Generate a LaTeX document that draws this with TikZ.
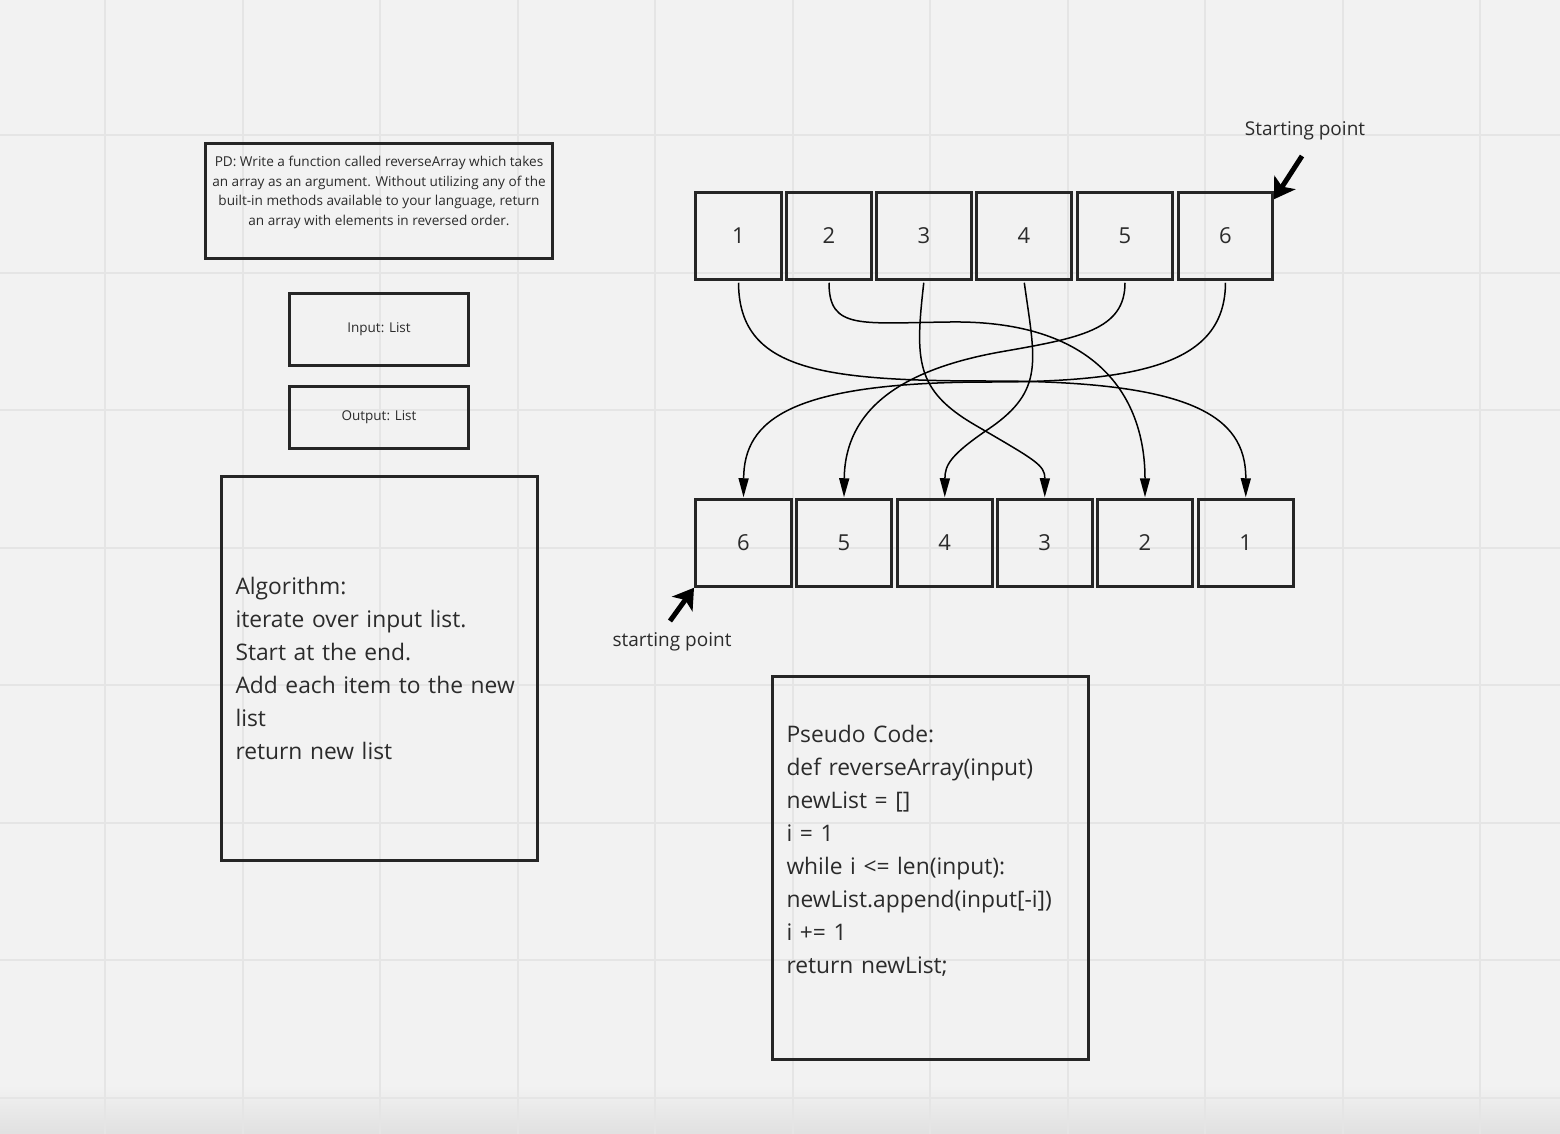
\documentclass[tikz,border=0pt]{standalone}
\usepackage{fontspec}
\setmainfont{Open Sans}
\usetikzlibrary{arrows.meta,positioning}

\definecolor{board}{HTML}{F2F2F2}
\definecolor{gridline}{HTML}{E5E5E5}
\definecolor{ink}{HTML}{262626}
\definecolor{txt}{HTML}{2B2B2B}

\tikzset{
  box/.style={draw=ink, line width=3pt, inner sep=0pt, text=txt},
  cell/.style={box, minimum height=86.5pt, font=\fontsize{22}{26}\selectfont},
  swap/.style={line width=1.5pt, -{Triangle[length=19pt,width=10pt]}, shorten <=2pt, shorten >=1pt},
  pointer/.style={line width=5pt, -{Stealth[length=20pt,width=25pt,inset=5pt]}},
  note/.style={font=\fontsize{19}{23}\selectfont, text=txt},
}

\begin{document}
\begin{tikzpicture}[x=1pt, y=-1pt]
	\useasboundingbox (0,0) rectangle (1560,1134);
	\fill[board] (0,0) rectangle (1560,1134);
	\shade[top color=board, bottom color=black!12] (0,1085) rectangle (1560,1134);
	% board grid
	\foreach \gx in {0,...,10}
		\draw[gridline, line width=2pt] ({105+137.5*\gx},0) -- ++(0,1134);
	\foreach \gy in {0,...,7}
		\draw[gridline, line width=2pt] (0,{135+137.5*\gy}) -- ++(1560,0);

	% problem domain
	\node[box, minimum width=347pt, minimum height=115pt] (pd) at (379,201) {};
	\node[font=\fontsize{13.6}{19.5}\selectfont, text=txt, align=center, anchor=north, inner sep=0pt] (pdtext) at (379,156) {PD: Write a function called reverseArray which takes\\ an array as an argument. Without utilizing any of the\\ built-in methods available to your language, return\\ an array with elements in reversed order.};
	\node[box, minimum width=178.5pt, minimum height=71.5pt, font=\fontsize{13.5}{16}\selectfont] (inbox) at (379,329.5) {\raisebox{-2pt}{Input: List}};
	\node[box, minimum width=178.5pt, minimum height=62pt, font=\fontsize{13.5}{16}\selectfont] (outbox) at (379,417.5) {Output: List};

	% algorithm and pseudo code
	\node[box, minimum width=316pt, minimum height=383.5pt, inner xsep=14pt, text width=288pt, align=left, font=\fontsize{22.8}{33}\selectfont] (algo) at (379.5,668.3) {Algorithm:\\ iterate over input list.\\ Start at the end.\\ Add each item to the new\\ list\\ return new list};
	\node[box, minimum width=316pt, minimum height=383pt, inner xsep=14pt, text width=288pt, align=left, font=\fontsize{22.8}{33}\selectfont] (pseudo) at (930.5,868) {Pseudo Code:\\ def reverseArray(input)\\ newList = []\\ i = 1\\ while i <= len(input):\\ newList.append(input[-i])\\ i += 1\\ return newList;\\[4pt] \mbox{}};

	% input array
	\node[cell, minimum width=86pt] (t1) at (738.5,236) {1};
	\node[cell, minimum width=85pt] (t2) at (829,236) {2};
	\node[cell, minimum width=95pt] (t3) at (924,236) {3};
	\node[cell, minimum width=95pt] (t4) at (1024,236) {4};
	\node[cell, minimum width=95pt] (t5) at (1125,236) {5};
	\node[cell, minimum width=94pt] (t6) at (1225.5,236) {6};

	% reversed array
	\node[cell, minimum width=96pt] (b6) at (743.5,543) {6};
	\node[cell, minimum width=95.5pt] (b5) at (844,543) {5};
	\node[cell, minimum width=94.5pt] (b4) at (944.75,543) {4};
	\node[cell, minimum width=94.5pt] (b3) at (1044.75,543) {3};
	\node[cell, minimum width=95pt] (b2) at (1145,543) {2};
	\node[cell, minimum width=95.5pt] (b1) at (1245.75,543) {1};

	% element moves
	\draw[swap] (t1.south) .. controls (739,370) and (820,381) .. (990,381)
		.. controls (1190,381) and (1246,415) .. (b1.north);
	\draw[swap] (t2.south) .. controls (829,330) and (860,323) .. (950,322)
		.. controls (1100,320) and (1145,400) .. (b2.north);
	\draw[swap] (t3.south) .. controls (915,360) and (915,390) .. (975,425)
		.. controls (1035,460) and (1045,465) .. (b3.north);
	\draw[swap] (t4.south) .. controls (1035,360) and (1045,390) .. (990,428)
		.. controls (950,455) and (945,465) .. (b4.north);
	\draw[swap] (t5.south) .. controls (1125,330) and (1080,338) .. (1000,352)
		.. controls (900,370) and (845,410) .. (b5.north);
	\draw[swap] (t6.south) .. controls (1225,360) and (1150,382) .. (990,382)
		.. controls (790,382) and (744,420) .. (b6.north);

	% starting points
	\node[note] (topnote) at (1305,131) {Starting point};
	\coordinate (toptail) at (1302,156);
	\draw[pointer] (toptail) -- ([yshift=-8pt]t6.north east);
	\node[note] (botnote) at (672,642) {starting point};
	\coordinate (bottail) at (670,621);
	\draw[pointer] (bottail) -- (b6.south west);
\end{tikzpicture}
\end{document}
